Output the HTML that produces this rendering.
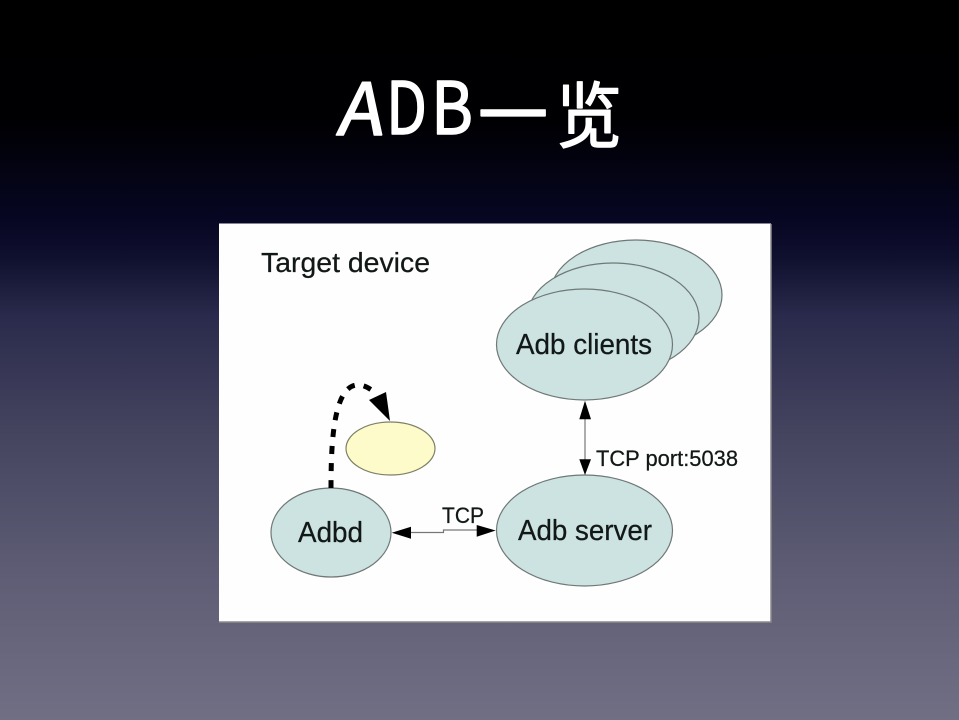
<!DOCTYPE html>
<html><head><meta charset="utf-8"><style>
html,body{margin:0;padding:0;width:959px;height:720px;overflow:hidden;background:#000}
svg{display:block}
</style></head><body>
<svg xmlns="http://www.w3.org/2000/svg" width="959" height="720" viewBox="0 0 959 720">
<defs><linearGradient id="bg" x1="0" y1="0" x2="0" y2="1">
<stop offset="0" stop-color="#000"/><stop offset=".17" stop-color="#000003"/><stop offset=".3" stop-color="#060622"/><stop offset=".36" stop-color="#10102f"/><stop offset=".44" stop-color="#2a2a4c"/><stop offset=".6" stop-color="#45445f"/><stop offset=".8" stop-color="#5e5d75"/><stop offset="1" stop-color="#706f84"/>
</linearGradient></defs>
<rect width="959" height="720" fill="url(#bg)"/>
<g font-family="'WenQuanYi Zen Hei','Noto Sans CJK SC',sans-serif" font-size="72" fill="#fff" stroke="#fff" stroke-width="1.4" stroke-linejoin="round">
<text transform="translate(336 135) skewX(-8)" x="0" y="0" textLength="46" lengthAdjust="spacingAndGlyphs">A</text>
<text x="386" y="134" textLength="41" lengthAdjust="spacingAndGlyphs">D</text>
<text x="431" y="134" textLength="42" lengthAdjust="spacingAndGlyphs">B</text>
<text x="478" y="141" textLength="70" lengthAdjust="spacingAndGlyphs">一</text>
<text x="556" y="142" textLength="66" lengthAdjust="spacingAndGlyphs">览</text>
</g>
<rect x="219" y="223.5" width="552" height="398.5" fill="#fefefe"/>
<path d="M771 224V622H219" fill="none" stroke="#8a8a8a" stroke-width="1.5"/>
<g fill="#cce3e1" stroke="#6f7876" stroke-width="1.2">
<ellipse cx="636" cy="295" rx="86" ry="55"/>
<ellipse cx="613" cy="318" rx="86" ry="55"/>
<ellipse cx="584.5" cy="344.5" rx="88" ry="55.5"/>
<ellipse cx="584.5" cy="530.5" rx="88" ry="55.5"/>
<ellipse cx="331" cy="532.5" rx="60" ry="44.5"/>
</g>
<ellipse cx="390.5" cy="448.5" rx="44.5" ry="26.5" fill="#fdfbc9" stroke="#7d8066" stroke-width="1.2"/>
<path d="M331 488C331 445 333 385 358 385C364 385 369 388 376 393" fill="none" stroke="#000" stroke-width="5" stroke-dasharray="8 9"/>
<path d="M390 421L369 400L386 392Z" fill="#000"/>
<path d="M405 532.5H443.5V530H480" fill="none" stroke="#777" stroke-width="1.2"/>
<path d="M391.7 532.7L411 526.7V538.7Z M495.7 530.5L476.7 525V536.7Z" fill="#000"/>
<path d="M585 415V462" fill="none" stroke="#777" stroke-width="1.2"/>
<path d="M585 400.7L579.3 419.3H591Z M585 475L579.3 459.3H591Z" fill="#000"/>
<g font-family="'Liberation Sans',sans-serif" fill="#111817" stroke="#111817" stroke-width=".25">
<text x="261" y="272" font-size="28" textLength="169" lengthAdjust="spacingAndGlyphs">Target device</text>
<text x="516" y="354" font-size="28.5" textLength="136" lengthAdjust="spacingAndGlyphs">Adb clients</text>
<text x="518" y="540" font-size="28.5" textLength="134" lengthAdjust="spacingAndGlyphs">Adb server</text>
<text x="298" y="542" font-size="28.5" textLength="65" lengthAdjust="spacingAndGlyphs">Adbd</text>
<text x="442" y="523" font-size="22" textLength="42" lengthAdjust="spacingAndGlyphs">TCP</text>
<text x="596" y="466" font-size="22" textLength="142" lengthAdjust="spacingAndGlyphs">TCP port:5038</text>
</g>
</svg>
</body></html>
